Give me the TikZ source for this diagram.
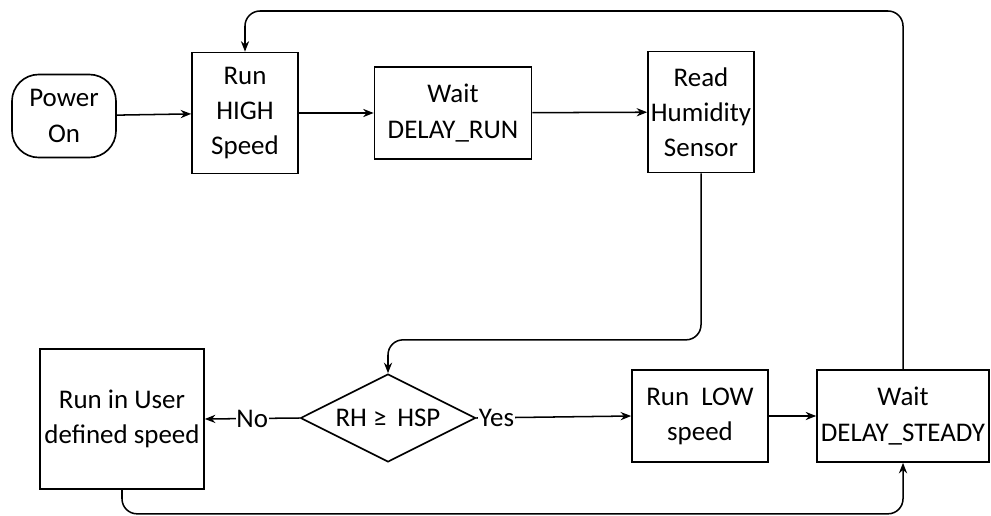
\documentclass[tikz,border=0pt]{standalone}
\usepackage{fontspec}
\setmainfont{Carlito}
\usetikzlibrary{shapes.geometric,arrows.meta}
\begin{document}
\begin{tikzpicture}[x=0.03cm,y=-0.03cm,
    >={Stealth[length=9pt,width=7pt]},
    every node/.style={font=\fontsize{23}{30}\selectfont,align=center},
    box/.style={draw,line width=1.4pt,inner sep=2pt},
    flow/.style={->,line width=1.3pt}]
    \useasboundingbox (0,0) rectangle (991,516);
    \node[box,rounded corners=0.8cm,minimum width=3.12cm,minimum height=2.49cm] (pwr) at (64,116) {Power\\On};
    \node[box,minimum width=3.18cm,minimum height=3.63cm] (high) at (245,113) {Run\\HIGH\\Speed};
    \node[box,minimum width=4.71cm,minimum height=2.76cm] (waitrun) at (453,113) {Wait\\DELAY\_RUN};
    \node[box,minimum width=3.18cm,minimum height=3.63cm] (read) at (701,112) {Read\\Humidity\\Sensor};
    \node[box,diamond,aspect=2,inner sep=0pt,minimum width=5.25cm,minimum height=2.64cm] (dec) at (388,418) {RH ≥\hspace{4pt} HSP};
    \node[box,minimum width=4.92cm,minimum height=4.2cm] (user) at (122,419) {Run in User\\defined speed};
    \node[box,minimum width=4.08cm,minimum height=2.76cm] (low) at (700,416) {Run~ LOW\\speed};
    \node[box,minimum width=5.16cm,minimum height=2.76cm] (steady) at (903,416) {Wait\\DELAY\_STEADY};
    % main line
    \draw[flow] (pwr) -- (high);
    \draw[flow] (high) -- (waitrun);
    \draw[flow] (waitrun) -- (read);
    \draw[flow,rounded corners=0.45cm] (read.south) |- ([yshift=1cm]dec.north) -- (dec.north);
    \draw[flow] (dec.west) -- node[fill=white,inner sep=0.5pt]{No} (user.east);
    \draw[flow] (dec.east) -- node[pos=0.13,fill=white,inner sep=0.5pt]{Yes} (low.west);
    \draw[flow] (low) -- (steady);
    % loops back
    \draw[flow,rounded corners=0.45cm] (steady.north) |- ([yshift=1.22cm]high.north) -- (high.north);
    \draw[flow,rounded corners=0.45cm] (user.south) |- ([yshift=-1.53cm]steady.south) -- (steady.south);
\end{tikzpicture}
\end{document}
